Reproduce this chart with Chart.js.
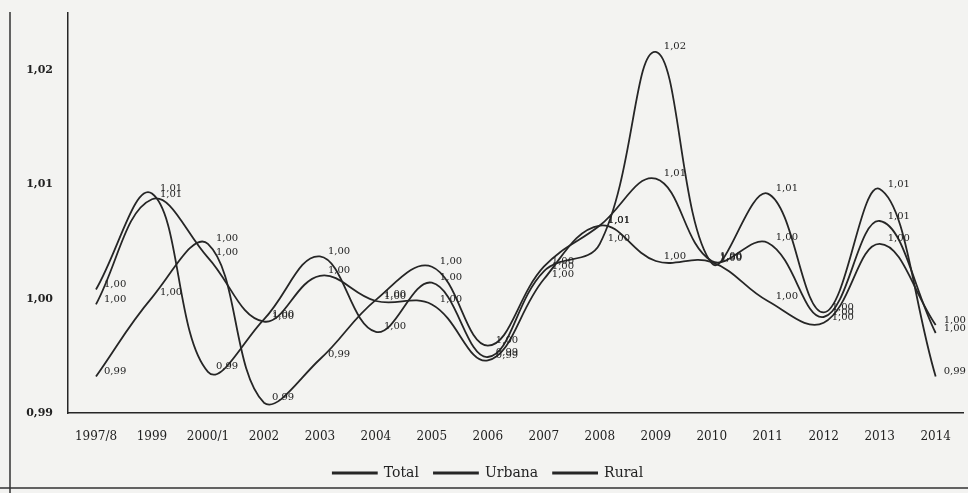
<!DOCTYPE html>
<html>
<head>
<meta charset="utf-8">
<script src="https://cdn.jsdelivr.net/npm/chart.js@4.4.0/dist/chart.umd.min.js"></script>
<style>
  body { margin: 0; background: #f3f3f1; }
  #wrap { position: relative; width: 968px; height: 493px; }
</style>
</head>
<body>
<div id="wrap"><canvas id="ratioChart" width="968" height="493"></canvas></div>
<script>
const years = ['1997/8', '1999', '2000/1', '2002', '2003', '2004', '2005', '2006',
               '2007', '2008', '2009', '2010', '2011', '2012', '2013', '2014'];

const total  = [0.9995, 1.0087, 1.0036, 0.9980, 1.0020, 0.9998, 0.9995, 0.9946,
                1.0017, 1.0064, 1.0033, 1.0032, 0.9998, 0.9979, 1.0048, 0.9977];
const urbana = [1.0008, 1.0092, 0.9936, 0.9982, 1.0037, 0.9971, 1.0014, 0.9949,
                1.0024, 1.0048, 1.0216, 1.0031, 1.0092, 0.9988, 1.0096, 0.9932];
const rural  = [0.9932, 1.0001, 1.0048, 0.9909, 0.9947, 0.9999, 1.0028, 0.9959,
                1.0028, 1.0064, 1.0105, 1.0033, 1.0049, 0.9984, 1.0068, 0.9970];

const yTicks = [0.99, 1.00, 1.01, 1.02];

const INK = '#262626';
const SERIF = '"DejaVu Serif", serif';
const fmt = v => v.toFixed(2).replace('.', ',');

// point labels, like the spreadsheet ones, to the right of each point
const valueLabels = {
  id: 'valueLabels',
  afterDatasetsDraw(chart) {
    const ctx = chart.ctx;
    ctx.save();
    ctx.font = '10px ' + SERIF;
    ctx.fillStyle = '#222';
    ctx.textBaseline = 'middle';
    chart.data.datasets.forEach((ds, i) => {
      chart.getDatasetMeta(i).data.forEach((pt, j) => {
        ctx.fillText(fmt(ds.data[j]), pt.x + 8, pt.y - 5);
      });
    });
    ctx.restore();
  }
};

// page background and the outer box lines of the scan
const paperFrame = {
  id: 'paperFrame',
  beforeDraw(chart) {
    const ctx = chart.ctx;
    ctx.save();
    ctx.fillStyle = '#f3f3f1';
    ctx.fillRect(0, 0, chart.width, chart.height);
    ctx.restore();
  },
  afterDraw(chart) {
    const ctx = chart.ctx;
    ctx.save();
    ctx.strokeStyle = '#333';
    ctx.lineWidth = 1.5;
    ctx.beginPath();
    ctx.moveTo(10, 12);
    ctx.lineTo(10, chart.height);
    ctx.moveTo(0, 488);
    ctx.lineTo(chart.width, 488);
    ctx.stroke();
    ctx.restore();
  }
};

const mkSet = (label, data) => ({
  label,
  data,
  borderColor: INK,
  backgroundColor: INK,
  borderWidth: 1.8,
  pointRadius: 0,
  tension: 0.4,
  fill: false
});

new Chart(document.getElementById('ratioChart'), {
  type: 'line',
  data: {
    labels: years,
    datasets: [
      mkSet('Total', total),
      mkSet('Urbana', urbana),
      mkSet('Rural', rural)
    ]
  },
  options: {
    responsive: false,
    animation: false,
    layout: { padding: { top: 13, left: 10, right: 2, bottom: 3 } },
    plugins: {
      legend: {
        position: 'bottom',
        labels: {
          boxWidth: 44,
          boxHeight: 1,
          padding: 15,
          color: '#222',
          font: { family: SERIF, size: 14 }
        }
      },
      tooltip: { enabled: false }
    },
    scales: {
      x: {
        offset: true,
        grid: { display: false, drawTicks: false },
        border: { display: true, color: INK, width: 1.5 },
        afterFit: scale => { scale.height = 38; },
        ticks: {
          color: '#222',
          padding: 17,
          maxRotation: 0,
          autoSkip: false,
          font: { family: SERIF, size: 12 }
        }
      },
      y: {
        min: 0.99,
        max: 1.025,
        grid: { display: false, drawTicks: false },
        border: { display: true, color: INK, width: 1.5 },
        afterBuildTicks: scale => { scale.ticks = yTicks.map(v => ({ value: v })); },
        afterFit: scale => {
          scale.width = 58;
          scale.paddingTop = 0;
          scale.paddingBottom = 0;
        },
        ticks: {
          color: '#222',
          padding: 15,
          font: { family: SERIF, size: 11, weight: 'bold' },
          callback: v => fmt(v)
        }
      }
    }
  },
  plugins: [paperFrame, valueLabels]
});
</script>
</body>
</html>
